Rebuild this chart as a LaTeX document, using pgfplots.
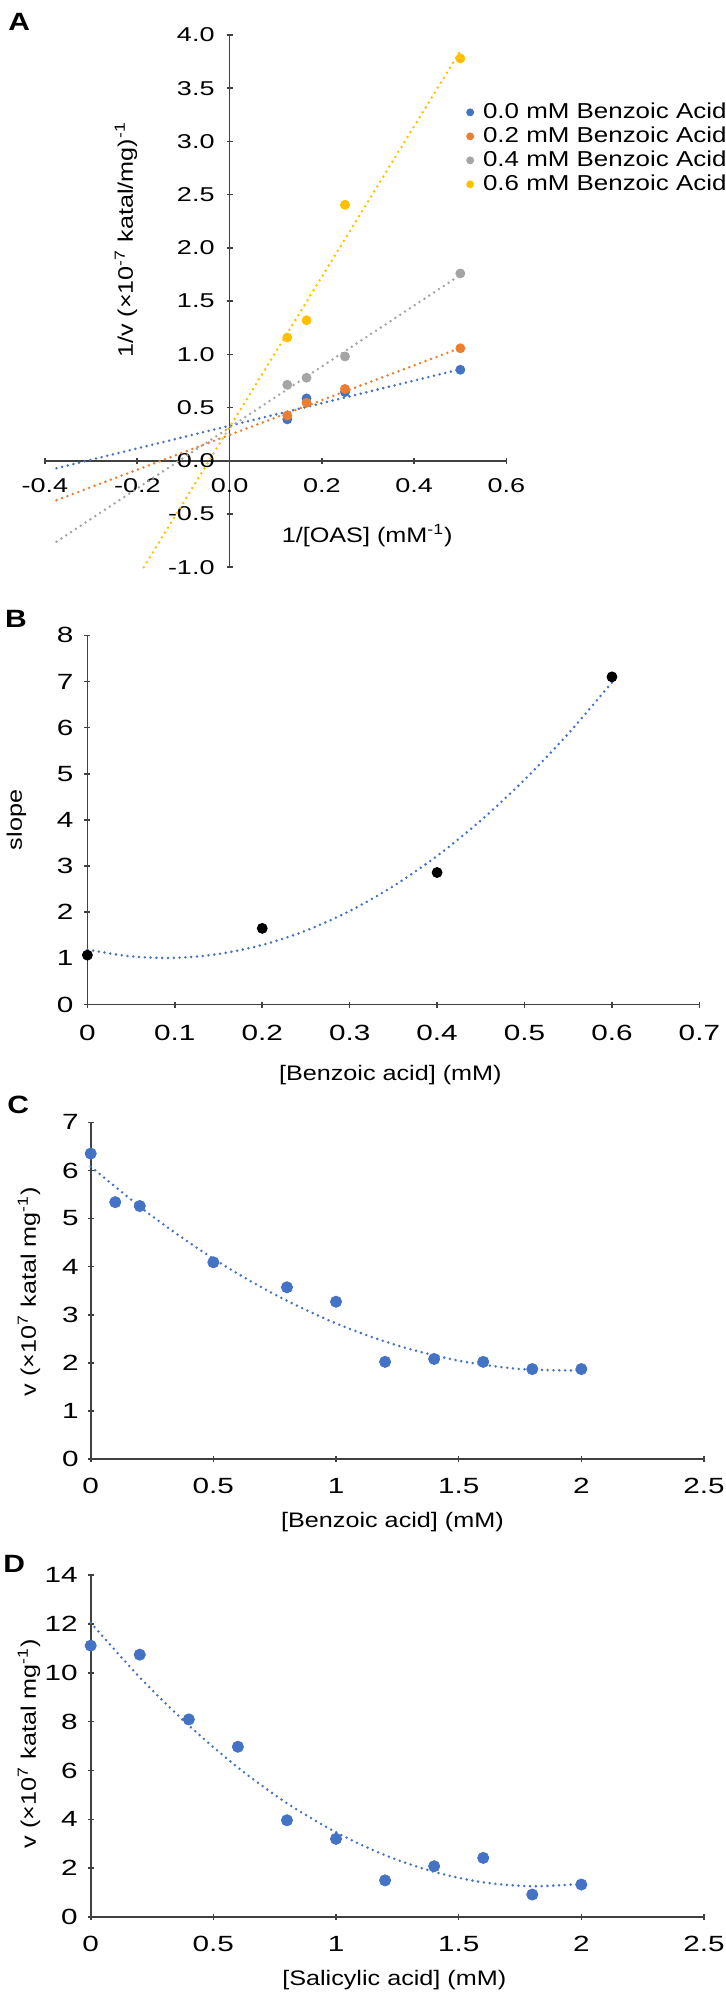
\documentclass[border=0pt]{standalone}
\usepackage{fontspec}
\setmainfont[FakeStretch=1.2]{Liberation Sans}
\newfontfamily\tickfont[FakeStretch=1.35]{Liberation Sans}
\usepackage{pgfplots}
\pgfplotsset{compat=1.18}

\definecolor{xlblue}{HTML}{4472C4}
\definecolor{xlorange}{HTML}{ED7D31}
\definecolor{xlgray}{HTML}{A5A5A5}
\definecolor{xlyellow}{HTML}{FFC000}
\definecolor{axline}{HTML}{404040}

\pgfplotsset{
  panel/.style={
    scale only axis, clip=false,
    axis line style={-, line width=0.8pt, draw=axline},
    tick style={line width=0.8pt, draw=axline},
    major tick length=3pt, tick align=outside,
    /pgf/number format/assume math mode=true,
    tick label style={font=\tickfont\fontsize{11}{13}\selectfont},
  },
  trend/.style={line width=1.4pt, line cap=round, dash pattern=on 0pt off 2.9pt},
}

\begin{document}
\begin{tikzpicture}
\useasboundingbox (0,0) rectangle (362.5pt,-999.5pt);

% ---------------- A: double reciprocal plot ----------------
\begin{axis}[panel,
  at={(22.5pt,-283.6pt)}, anchor=south west,
  width=230.75pt, height=266.1pt,
  xmin=-0.4, xmax=0.6, ymin=-1, ymax=4,
  axis lines=middle,
  axis line style={-},
  hide obscured x ticks=false, hide obscured y ticks=false,
  xtick={-0.4,-0.2,0,0.2,0.4,0.6},
  ytick={-1,-0.5,0,0.5,1,1.5,2,2.5,3,3.5,4},
  tick label style={font=\tickfont\fontsize{10}{12}\selectfont},
  xticklabel style={yshift=-4pt, /pgf/number format/.cd, fixed, fixed zerofill, precision=1},
  yticklabel style={xshift=-2.5pt, /pgf/number format/.cd, fixed, fixed zerofill, precision=1},
  every axis x label/.style={at={(axis description cs:0.698,0.0596)}, anchor=center,
    font=\fontsize{10.5}{12}\selectfont},
  every axis y label/.style={at={(axis description cs:0.1755,0.615)}, anchor=center, rotate=90,
    font=\fontsize{10.5}{12}\selectfont},
  xlabel={1/[OAS] (mM\textsuperscript{-1})},
  ylabel={1/v (×10\textsuperscript{-7} katal/mg)\textsuperscript{-1}},
  legend cell align=left,
  legend image code/.code={\fill[#1] (0pt,0pt) circle (1.75pt);},
  legend style={at={(axis description cs:0.912,0.878)}, anchor=north west,
    draw=none, fill=none, inner sep=0pt, row sep=0pt,
    font=\fontsize{10.8}{13}\selectfont,
    /tikz/every odd column/.append style={column sep=3.5pt},
    nodes={text height=8pt, text depth=2pt, inner sep=1pt}},
]
\addplot[only marks, mark=*, mark size=2.25pt, color=xlblue]
  coordinates {(0.125,0.389) (0.1667,0.586) (0.25,0.645) (0.5,0.855)};
\addlegendentry{0.0 mM Benzoic Acid}
\addplot[only marks, mark=*, mark size=2.25pt, color=xlorange]
  coordinates {(0.125,0.425) (0.1667,0.545) (0.25,0.675) (0.5,1.057)};
\addlegendentry{0.2 mM Benzoic Acid}
\addplot[only marks, mark=*, mark size=2.25pt, color=xlgray]
  coordinates {(0.125,0.714) (0.1667,0.780) (0.25,0.980) (0.5,1.760)};
\addlegendentry{0.4 mM Benzoic Acid}
\addplot[only marks, mark=*, mark size=2.25pt, color=xlyellow]
  coordinates {(0.125,1.158) (0.1667,1.320) (0.25,2.405) (0.5,3.780)};
\addlegendentry{0.6 mM Benzoic Acid}
% linear trendlines
\addplot[trend, xlblue, forget plot]   coordinates {(-0.375,-0.07) (0.5,0.86)};
\addplot[trend, xlorange, forget plot] coordinates {(-0.375,-0.37) (0.5,1.06)};
\addplot[trend, xlgray, forget plot]   coordinates {(-0.375,-0.76) (0.5,1.745)};
\addplot[trend, xlyellow, forget plot] coordinates {(-0.186,-1.0) (0.5,3.85)};
\end{axis}
\node[anchor=base west, inner sep=0pt, font=\fontsize{12.5}{14}\selectfont\bfseries] at (4pt,-15pt) {A};

% ---------------- B: replot of slopes ----------------
\begin{axis}[panel,
  at={(43.7pt,-502.25pt)}, anchor=south west,
  width=306pt, height=184.6pt,
  xmin=0, xmax=0.7, ymin=0, ymax=8,
  axis lines=left, axis line style={-},
  xtick={0,0.1,0.2,0.3,0.4,0.5,0.6,0.7},
  ytick={0,1,2,3,4,5,6,7,8},
  xticklabel style={yshift=-5.5pt},
  yticklabel style={xshift=-2pt},
  every axis x label/.style={at={(axis description cs:0.495,-0.191)}, anchor=center,
    font=\fontsize{10.5}{12}\selectfont},
  every axis y label/.style={at={(axis description cs:-0.116,0.5)}, anchor=center, rotate=90,
    font=\fontsize{10.5}{12}\selectfont},
  xlabel={[Benzoic acid] (mM)},
  ylabel={slope},
]
\addplot[trend, xlblue, smooth] coordinates {
  (0,1.190) (0.05,1.043) (0.1,1.011) (0.15,1.094) (0.2,1.290) (0.25,1.601)
  (0.3,2.026) (0.35,2.566) (0.4,3.220) (0.45,3.988) (0.5,4.871) (0.55,5.869) (0.6,6.980)};
\addplot[only marks, mark=*, mark size=2.5pt, color=black]
  coordinates {(0,1.07) (0.2,1.65) (0.4,2.86) (0.6,7.10)};
\end{axis}
\node[anchor=base west, inner sep=0pt, font=\fontsize{12.5}{14}\selectfont\bfseries] at (2.3pt,-313.5pt) {B};

% ---------------- C: benzoic acid ----------------
\begin{axis}[panel,
  at={(45.35pt,-729.5pt)}, anchor=south west,
  width=306.65pt, height=168.35pt,
  xmin=0, xmax=2.5, ymin=0, ymax=7,
  axis lines=left, axis line style={-},
  xtick={0,0.5,1,1.5,2,2.5},
  ytick={0,1,2,3,4,5,6,7},
  xticklabel style={yshift=-4.5pt},
  yticklabel style={xshift=-1pt},
  every axis x label/.style={at={(axis description cs:0.492,-0.186)}, anchor=center,
    font=\fontsize{10.5}{12}\selectfont},
  every axis y label/.style={at={(axis description cs:-0.1006,0.497)}, anchor=center, rotate=90,
    font=\fontsize{10.5}{12}\selectfont},
  xlabel={[Benzoic acid] (mM)},
  ylabel={v (×10\textsuperscript{7} katal mg\textsuperscript{-1})},
]
\addplot[trend, xlblue, smooth] coordinates {
  (0,6.080) (0.25,5.051) (0.5,4.165) (0.75,3.421) (1.0,2.820)
  (1.25,2.361) (1.5,2.045) (1.75,1.871) (2.0,1.840)};
\addplot[only marks, mark=*, mark size=2.8pt, color=xlblue]
  coordinates {(0,6.35) (0.1,5.34) (0.2,5.26) (0.5,4.09) (0.8,3.57) (1.0,3.27)
               (1.2,2.02) (1.4,2.08) (1.6,2.02) (1.8,1.87) (2.0,1.87)};
\end{axis}
\node[anchor=base west, inner sep=0pt, font=\fontsize{12.5}{14}\selectfont\bfseries] at (3.5pt,-556.5pt) {C};

% ---------------- D: salicylic acid ----------------
\begin{axis}[panel,
  at={(45.35pt,-958.5pt)}, anchor=south west,
  width=306.65pt, height=171pt,
  xmin=0, xmax=2.5, ymin=0, ymax=14,
  axis lines=left, axis line style={-},
  xtick={0,0.5,1,1.5,2,2.5},
  ytick={0,2,4,6,8,10,12,14},
  xticklabel style={yshift=-4.5pt},
  yticklabel style={xshift=-1.5pt},
  every axis x label/.style={at={(axis description cs:0.495,-0.184)}, anchor=center,
    font=\fontsize{10.5}{12}\selectfont},
  every axis y label/.style={at={(axis description cs:-0.1006,0.507)}, anchor=center, rotate=90,
    font=\fontsize{10.5}{12}\selectfont},
  xlabel={[Salicylic acid] (mM)},
  ylabel={v (×10\textsuperscript{7} katal mg\textsuperscript{-1})},
]
\addplot[trend, xlblue, smooth] coordinates {
  (0,12.05) (0.2,9.81) (0.4,7.84) (0.6,6.12) (0.8,4.66) (1.0,3.47)
  (1.2,2.53) (1.4,1.85) (1.6,1.42) (1.8,1.26) (2.0,1.355)};
\addplot[only marks, mark=*, mark size=2.8pt, color=xlblue]
  coordinates {(0,11.11) (0.2,10.74) (0.4,8.09) (0.6,6.97) (0.8,3.96) (1.0,3.20)
               (1.2,1.50) (1.4,2.08) (1.6,2.42) (1.8,0.92) (2.0,1.33)};
\end{axis}
\node[anchor=base west, inner sep=0pt, font=\fontsize{12.5}{14}\selectfont\bfseries] at (1.5pt,-786pt) {D};

\end{tikzpicture}
\end{document}
